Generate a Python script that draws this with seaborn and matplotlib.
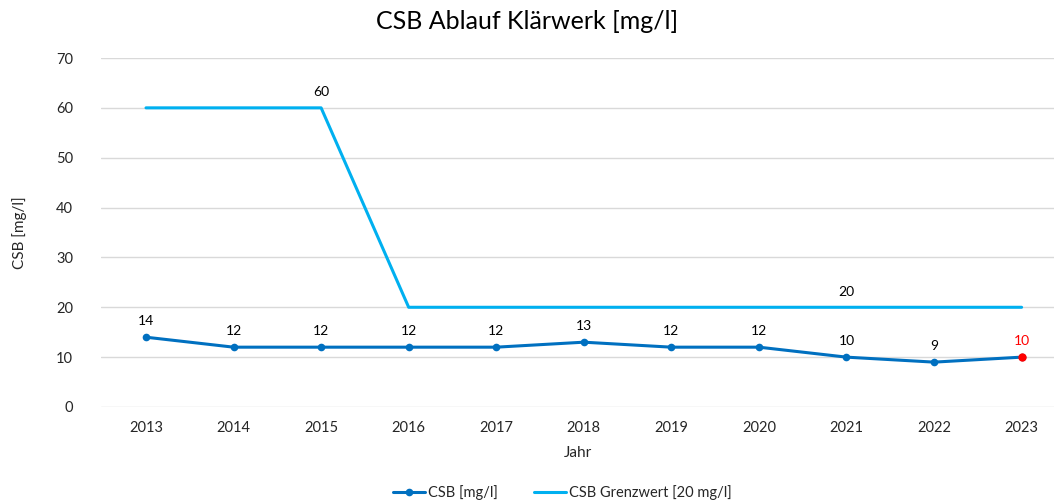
import matplotlib
matplotlib.use("Agg")
import matplotlib.pyplot as plt
import seaborn as sns
import numpy as np
import pandas as pd

years = ["2013", "2014", "2015", "2016", "2017", "2018", "2019", "2020", "2021", "2022", "2023"]
csb = [14, 12, 12, 12, 12, 13, 12, 12, 10, 9, 10]
grenzwert = [60, 60, 60, 20, 20, 20, 20, 20, 20, 20, 20]
grenz_label_idx = [2, 8]

sns.set_theme(style="white")
plt.rcParams['font.family'] = ['Lato', 'DejaVu Sans']

fig = plt.figure(figsize=(10.54, 5.04), dpi=100)
ax = fig.add_axes([101/1054, 97/504, (1054-101)/1054, (407-58)/504])

pos = np.arange(len(years))
df = pd.DataFrame({"pos": pos, "csb": csb, "grenz": grenzwert})

sns.lineplot(data=df, x="pos", y="grenz", ax=ax, color="#00B0F0", linewidth=2.2,
             label="CSB Grenzwert [20 mg/l]", zorder=3)
sns.lineplot(data=df, x="pos", y="csb", ax=ax, color="#0070C0", linewidth=2.2,
             marker="o", markersize=5.5, markeredgewidth=0, label="CSB [mg/l]", zorder=4)
# last point red
ax.plot(pos[-1], csb[-1], "o", color="#FF0000", markersize=6, markeredgewidth=0, zorder=5)

for i, v in enumerate(csb):
    col = "#FF0000" if i == len(csb) - 1 else "#000000"
    ax.annotate(str(v), (pos[i], v), xytext=(0, 7), textcoords="offset points",
                ha="center", va="bottom", fontsize=10, color=col)
for i in grenz_label_idx:
    ax.annotate(str(grenzwert[i]), (pos[i], grenzwert[i]), xytext=(0, 7),
                textcoords="offset points", ha="center", va="bottom", fontsize=10, color="#000000")

ax.set_xlim(-0.514, 10.37)
ax.set_ylim(0, 70)
ax.set_yticks(range(0, 71, 10))
ax.set_xticks(pos)
ax.set_xticklabels(years)
ax.grid(axis="y", color="#D9D9D9", linewidth=1)
ax.grid(axis="x", visible=False)
for s in ax.spines.values():
    s.set_visible(False)
ax.tick_params(axis="both", length=0, labelsize=10.5, colors="#262626", pad=10)
ax.tick_params(axis="y", pad=20)

ax.set_xlabel("Jahr", fontsize=11, color="#262626", labelpad=8)
ax.set_ylabel("CSB [mg/l]", fontsize=11, color="#262626", labelpad=21)
fig.suptitle("CSB Ablauf Klärwerk [mg/l]", y=0.98, fontsize=18, color="#000000")

handles, labels = ax.get_legend_handles_labels()
order = [1, 0]
ax.legend([handles[i] for i in order], [labels[i] for i in order],
          loc="lower center", bbox_to_anchor=(0.5 - 0.016, -0.305),
          bbox_transform=ax.transAxes,
          ncol=2, frameon=False, fontsize=10.5, handlelength=2.2, columnspacing=2.5,
          handletextpad=0.2)

fig.savefig("out.png", dpi=100)
